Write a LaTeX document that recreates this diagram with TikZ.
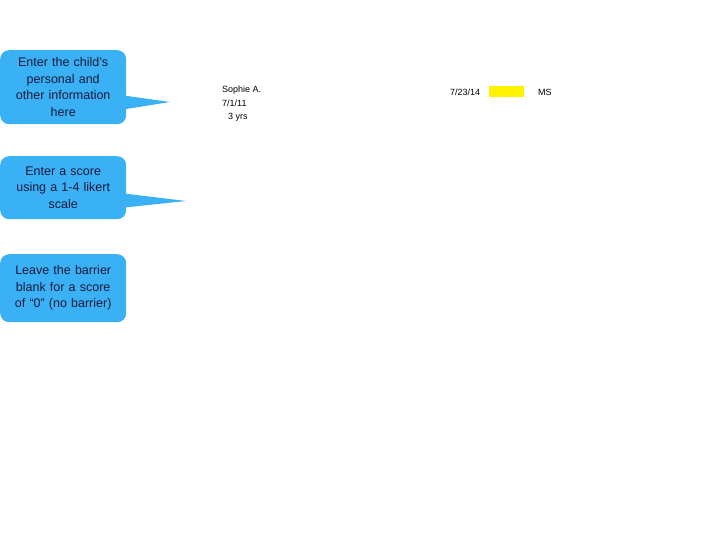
\documentclass[tikz,border=0pt]{standalone}
\usepackage{fontspec}
\setmainfont{Liberation Sans}
\definecolor{callblue}{HTML}{3AB0F5}
\definecolor{calltext}{HTML}{1A1A3A}
\begin{document}
\begin{tikzpicture}[x=1pt,y=-1pt,
  callbox/.style={fill=callblue, rounded corners=9pt, minimum width=126pt, anchor=north west, inner sep=0pt, text=calltext, font=\fontsize{12.5}{16.5}\selectfont, align=center, text width=122pt},
  small/.style={font=\fontsize{9}{11}\selectfont, anchor=west, inner sep=0pt}]
\useasboundingbox (0,0) rectangle (720,540);
\node[callbox, minimum height=74pt] (c1) at (0,50) {Enter the child's\\personal and\\other information\\here};
\fill[callblue] (120,95) -- (170,102) -- (120,110) -- cycle;
\node[callbox, minimum height=63pt] (c2) at (0,156) {Enter a score\\using a 1-4 likert\\scale};
\fill[callblue] (120,193) -- (186,201) -- (120,208) -- cycle;
\node[callbox, minimum height=68pt] (c3) at (0,254) {Leave the barrier\\blank for a score\\of ``0'' (no barrier)};
\node[small] (n1) at (222,90) {Sophie A.};
\node[small] (n2) at (222,103) {7/1/11};
\node[small] (n3) at (228,117) {3 yrs};
\node[small] (d) at (450,92) {7/23/14};
\fill[yellow] (489,86) rectangle (524,97);
\node[small] (ms) at (538,92) {MS};
\end{tikzpicture}
\end{document}
